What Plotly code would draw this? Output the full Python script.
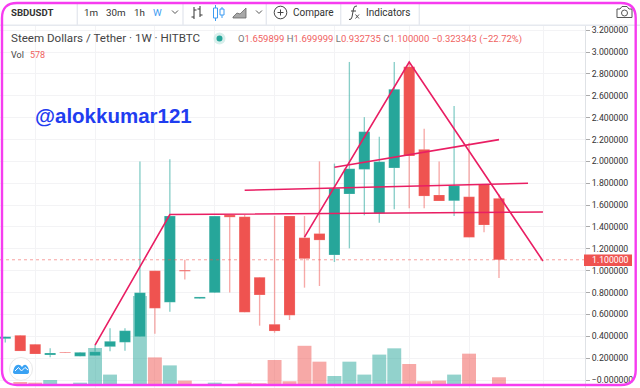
import plotly.graph_objects as go

# ---------- data ----------
opens = [0.378,0.409,0.327,0.229,0.256,0.217,0.222,0.305,0.345,0.396,1.000,0.711,1.005,0.745,0.799,1.510,1.494,0.940,0.510,1.500,1.302,1.340,1.144,1.702,1.927,1.525,1.940,2.867,2.110,1.693,1.640,1.677,1.793,1.662]
highs = [0.396,0.409,0.327,0.290,0.256,0.253,0.320,0.473,0.473,2.000,1.000,2.020,1.100,0.760,1.500,1.510,1.510,0.940,1.500,1.500,1.500,2.000,1.980,2.910,2.405,2.226,2.910,2.910,2.300,2.000,2.507,2.170,1.793,1.700]
lows  = [0.342,0.265,0.238,0.208,0.250,0.217,0.222,0.263,0.268,0.396,0.424,0.625,0.920,0.745,0.799,0.800,0.620,0.497,0.433,0.549,0.845,0.860,1.080,1.205,1.507,1.439,1.562,1.571,1.571,1.638,1.500,1.305,1.351,0.933]
closes= [0.396,0.265,0.238,0.247,0.250,0.253,0.259,0.354,0.451,0.799,0.656,1.500,0.995,0.760,1.500,1.490,0.620,0.778,0.448,0.592,1.110,1.280,1.754,1.933,2.272,1.997,2.660,2.050,1.683,1.638,1.778,1.305,1.418,1.100]
volumes=[None,225,175,375,None,175,2775,780,None,6675,2070,1470,330,None,175,None,175,130,1875,280,2940,1750,675,1750,780,2280,2750,1575,280,330,780,2350,None,578]

price_ticks = [0.0,0.2,0.4,0.6,0.8,1.0,1.2,1.4,1.6,1.8,2.0,2.2,2.4,2.6,2.8,3.0,3.2]
price_labels = ["\u22120.000000","0.200000","0.400000","0.600000","0.800000","1.000000","1.200000","1.400000","1.600000","1.800000","2.000000","2.200000","2.400000","2.600000","2.800000","3.000000","3.200000"]
time_grid = [2,6,10,14,18,22,27,31,36]

# hand-drawn trend lines: (candle index, price)
line_a_x = [6,11,35.94];   line_a_y = [0.320,1.514,1.537]
line_b_x = [20,27,35.94];  line_b_y = [1.308,2.909,1.089]
line_c_x = [16,34.94];     line_c_y = [1.736,1.800]
line_d_x = [22,33];        line_d_y = [1.946,2.199]
last_price = 1.100000

GREEN="#26a69a"; RED="#ef5350"; PINK="#e91e63"; MAG="#f63cf0"; W=640; H=388
idx=list(range(len(opens)))
colors=[GREEN if c>=o else RED for o,c in zip(opens,closes)]
wick=["rgba(38,166,154,0.55)" if c>=o else "rgba(239,83,80,0.5)" for o,c in zip(opens,closes)]
volc=["rgba(38,166,154,0.5)" if c>=o else "rgba(239,83,80,0.5)" for o,c in zip(opens,closes)]

fig=go.Figure()
fig.add_bar(x=idx,y=volumes,marker=dict(color=volc,line_width=0),width=0.93,yaxis="y",hoverinfo="skip")
fig.add_bar(x=idx,y=[h-l for h,l in zip(highs,lows)],base=lows,marker=dict(color=wick,line_width=0),width=0.09,yaxis="y2",hoverinfo="skip")
fig.add_bar(x=idx,y=[abs(c-o) for o,c in zip(opens,closes)],base=[min(o,c) for o,c in zip(opens,closes)],
            marker=dict(color=colors,line=dict(color="rgba(255,255,255,0.35)",width=0.5)),width=0.74,yaxis="y2",hoverinfo="skip")
for xs,ys in [(line_a_x,line_a_y),(line_b_x,line_b_y),(line_c_x,line_c_y),(line_d_x,line_d_y)]:
    fig.add_scatter(x=xs,y=ys,mode="lines",line=dict(color=PINK,width=1.6),yaxis="y2",hoverinfo="skip")

def X(v): return v/W
def Y(v): return 1-v/H
def P(*pts):
    out=[]
    for p in pts:
        if isinstance(p,str): out.append(p)
        else: out.append(f"{X(p[0]):.5f},{Y(p[1]):.5f}")
    return " ".join(out)
shapes=[]
def rect(x0,y0,x1,y1,fill,line=None,layer="above"):
    shapes.append(dict(type="rect",xref="paper",yref="paper",x0=X(x0),x1=X(x1),y0=Y(y0),y1=Y(y1),fillcolor=fill,line=dict(width=0) if not line else dict(color=line,width=1),layer=layer))
def seg(x0,y0,x1,y1,c="#555",w=1,dash="solid",layer="above"):
    shapes.append(dict(type="line",xref="paper",yref="paper",x0=X(x0),x1=X(x1),y0=Y(y0),y1=Y(y1),line=dict(color=c,width=w,dash=dash),layer=layer))
def circ(cx,cy,r,fill="rgba(0,0,0,0)",line=None,w=1):
    shapes.append(dict(type="circle",xref="paper",yref="paper",x0=X(cx-r),x1=X(cx+r),y0=Y(cy+r),y1=Y(cy-r),fillcolor=fill,line=dict(color=line,width=w) if line else dict(width=0),layer="above"))
def path(d,fill="rgba(0,0,0,0)",line=None,w=1):
    shapes.append(dict(type="path",xref="paper",yref="paper",path=d,fillcolor=fill,line=dict(color=line,width=w) if line else dict(width=0),layer="above"))

# toolbar
rect(0,0,W,25,"#ffffff")
seg(0,25.3,W,25.3,"#e6e9ef",1.6)
for sx in [77.3,183,266.3,340.7,419.3]:
    seg(sx,3,sx,25,"#e6e9ef",1.4)
# last price dotted line and tag
fig.add_scatter(x=[-0.354,38.75],y=[last_price,last_price],mode="lines",line=dict(color="rgba(239,83,80,0.55)",width=1,dash="dot"),yaxis="y2",hoverinfo="skip")
rect(584,254.5,632,266,RED)
# chevrons
for cx in [175,259]:
    path("M "+P((cx-3,10.5),"L",(cx,13.5),"L",(cx+3,10.5)),line="#555",w=1)
# bars icon
seg(194,7,194,19,"#444",1.1); seg(191.5,17,194,17,"#444",1.1); seg(194,10,196.5,10,"#444",1.1)
seg(200,6,200,17,"#444",1.1); seg(197.5,9,200,9,"#444",1.1); seg(200,15,202.5,15,"#444",1.1)
# candles icon (active)
BLUE="#3d9bf2"
seg(215.5,5,215.5,21,BLUE,1); rect(213.5,8,217.5,18,"#ffffff",BLUE)
seg(222,7,222,18,BLUE,1); rect(220,9,224,15,"#ffffff",BLUE)
# area icon
path("M "+P((233,17),"L",(237,13),"L",(240,14),"L",(246,8),"L",(246,18),"L",(233,18),"Z"),fill="#a8a8a8",line="#666",w=0.8)
# compare plus
circ(280.5,12.5,6.3,line="#444",w=1)
seg(277.5,12.5,283.5,12.5,"#444",1); seg(280.5,9.5,280.5,15.5,"#444",1)
# fx
path("M "+P((357,6),"Q",(354,5.5),(353.5,9),"L",(352,17),"Q",(351.5,20),(349,19.5)),line="#444",w=1)
seg(351,11,356,11,"#444",1)
seg(355.5,14.5,359,18.5,"#444",0.9); seg(359,14.5,355.5,18.5,"#444",0.9)
# camera
path("M "+P((617,9),"L",(620,9),"L",(622,6.5),"L",(627,6.5),"L",(629,9),"L",(632,9),"L",(632,17.5),"L",(617,17.5),"Z"),line="#555",w=1)
circ(624.5,13,3,line="#555",w=1)
# status dot
circ(219.5,38.5,6,fill="#d8efec"); circ(219.5,38.5,3,fill=GREEN)
# logo
circ(21,369,11.5,fill="#ffffff",line="#e8e8e8",w=1)
path("M "+P((13,372),"Q",(14,366),(17,365),"Q",(20,364),(22,367),"Q",(24,364),(26,365),"Q",(29,367),(29,372),"Q",(29,374),(26,374),"L",(16,374),"Q",(13,374),(13,372),"Z"),fill="#3aa2f3")
path("M "+P((15,371),"L",(18.5,367.5),"L",(21.5,371),"L",(25,367.5),"L",(28,370)),line="#ffffff",w=1)
# magenta frame
r=15; l,t,ri,b=2,3,635.7,385
path("M "+P((l+r,t),"L",(ri-r,t),"Q",(ri,t),(ri,t+r),"L",(ri,b-r),"Q",(ri,b),(ri-r,b),"L",(l+r,b),"Q",(l,b),(l,b-r),"L",(l,t+r),"Q",(l,t),(l+r,t),"Z"),line=MAG,w=2.4)

ann=[]
def text(x,y,s,size=10,color="#333",family="Roboto",anchor="left"):
    ann.append(dict(xref="paper",yref="paper",x=X(x),y=Y(y),text=s,showarrow=False,xanchor=anchor,yanchor="middle",
                    font=dict(size=size,color=color,family=family),borderpad=0,borderwidth=0,align="left"))
text(10.5,12.5,"<b>SBDUSDT</b>",9.6)
text(83.5,12.5,"1m",9.8); text(106,12.5,"30m",9.8); text(134,12.5,"1h",9.8); text(153,12.5,"W",9.8,BLUE)
text(292.5,12.5,"Compare",10); text(366,12.5,"Indicators",10)
text(10.5,38.5,"Steem Dollars / Tether \u00b7 1W \u00b7 HITBTC",11.6,"#444")
g='<span style="color:#777">%s</span>'; rr='<span style="color:#f0625f">%s</span>'
ohlc="".join([g%"O",rr%"1.659899 ",g%"H",rr%"1.699999 ",g%"L",rr%"0.932735 ",g%"C",rr%"1.100000 \u22120.323343 (\u221222.72%)"])
text(238,39,ohlc,9.5)
text(10.5,55.5,"Vol",9,"#444"); text(30,55.5,"578",9,"#f0625f")
text(34.5,115,"<b>@alokkumar121</b>",20.5,"#1f3df0","Liberation Sans")
text(592,260.3,"1.100000",8.7,"#ffffff")

fig.update_layout(width=W,height=H,margin=dict(l=0,r=0,t=0,b=0),paper_bgcolor="white",plot_bgcolor="white",
    barmode="overlay",showlegend=False,shapes=shapes,annotations=ann,
    xaxis=dict(domain=[0,585/W],range=[-0.354,38.75],tickvals=time_grid,showticklabels=False,ticks="",
               showgrid=True,gridcolor="#f3f3f5",gridwidth=1,zeroline=False,showline=False,anchor="y"),
    yaxis=dict(domain=[0,362/H],range=[-225,26925],showgrid=False,zeroline=False,showticklabels=False,ticks="",showline=False),
    yaxis2=dict(domain=[0,362/H],overlaying="y",side="right",anchor="x",range=[-0.0732,3.239],tickvals=price_ticks,ticktext=price_labels,
                showgrid=True,gridcolor="#f3f3f5",gridwidth=1,zeroline=False,showline=True,linecolor="#dfe2e6",linewidth=1,
                ticks="outside",ticklen=4,tickcolor="#aaa",tickfont=dict(size=8.7,color="#333",family="Roboto")))
fig.write_html("out.html",config=dict(displayModeBar=False),
               post_script="document.body.style.margin='0';document.body.style.overflow='hidden';")
